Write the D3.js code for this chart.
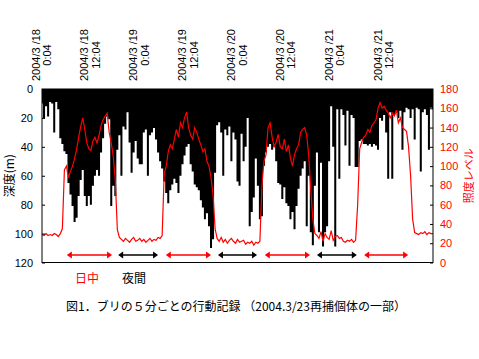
<!DOCTYPE html>
<html><head><meta charset="utf-8">
<script src="https://cdn.jsdelivr.net/npm/d3@7"></script>
<style>
html,body{margin:0;padding:0;background:#fff;}
svg{display:block;}
</style></head>
<body><svg id="c" width="479" height="359"></svg>
<script>
// ---- data (30-minute samples starting 2004/3/18 0:04) ----
const stepHours = 0.5;
const depthValues = [
10,20,12,19,9,10,30,9,14,34,
38,43,45,65,73,81,92,89,74,63,
56,74,81,74,80,67,60,56,60,44,
34,24,19,21,81,67,74,42,32,60,
26,28,16,37,58,44,36,48,52,52,
30,28,60,32,30,27,35,44,50,55,
64,72,79,70,66,62,65,72,60,52,
46,40,38,52,57,66,68,70,77,82,
90,86,95,110,104,58,25,23,30,60,
28,32,26,50,30,35,64,67,31,50,
40,20,95,85,75,48,67,90,88,53,
44,40,38,42,40,50,65,66,76,68,
79,81,90,85,97,81,69,60,55,50,
95,60,99,108,67,44,99,51,109,99,
95,50,12,40,109,14,62,14,18,39,
15,53,18,20,54,54,36,35,38,38,
39,38,40,38,39,42,20,22,18,30,
62,16,62,18,16,20,15,42,16,13,
14,20,14,35,13,14,57,16,14,18,
42,13,14
];
const lightValues = [
29,28,30,28,29,28,30,29,27,30,
35,96,100,88,95,100,108,117,130,141,150,138,124,118,116,126,130,124,132,142,148,152,155,135,124,110,85,34,
26,24,22,25,23,21,24,26,22,23,25,22,24,21,23,25,22,24,23,26,25,
28,
92,100,115,122,118,128,138,130,145,140,150,156,140,132,128,140,135,128,122,115,118,105,100,88,70,35,
25,22,26,21,24,20,23,25,22,20,24,21,22,23,19,21,20,22,18,21,20,22,
80,105,112,140,145,130,120,125,133,120,118,128,115,122,108,100,112,118,122,135,138,140,132,110,75,45,30,
28,25,32,22,30,26,24,33,23,27,28,25,26,22,21,23,22,24,21,23,
60,118,125,130,132,138,135,142,145,148,160,166,160,162,158,155,150,155,152,158,145,150,140,138,136,120,90,45,31,
30,29,31,30,32,29,31,30,30
];
const tickHours = [0,12,24,36,48,60,72,84];
const tickDates = ["2004/3 /18","2004/3 /18","2004/3 /19","2004/3 /19","2004/3 /20","2004/3 /20","2004/3 /21","2004/3 /21"];
const tickTimes = ["0:04","12:04","0:04","12:04","0:04","12:04","0:04","12:04"];
const depthTicks = [0,20,40,60,80,100,120];
const lightTicks = [0,20,40,60,80,100,120,140,160,180];
const periodStart = [6.1,18.7,30.4,43.2,54.7,67.5,79.1];
const periodEnd   = [17.2,28.5,41.5,52.8,65.8,77.3,89.9];
const periodKind  = ["day","night","day","night","day","night","day"];
const legendLabels = ["日中","夜間"];
const caption = "図1．ブリの５分ごとの行動記録 （2004.3/23再捕個体の一部）";
const leftTitle = "深度(m)";
const rightTitle = "照度レベル";

// ---- layout ----
const L = 42, R = 433, T = 89, B = 262.5;
const RED = "#ff0000";
const svg = d3.select("#c");
const x = d3.scaleLinear().domain([0,96]).range([L,R]);
const yD = d3.scaleLinear().domain([0,120]).range([T,B]);
const yL = d3.scaleLinear().domain([0,180]).range([B,T]);
const tf = "'Liberation Sans', Arial, sans-serif";
const jf = "'Noto Sans CJK JP', sans-serif";

svg.append("defs").append("clipPath").attr("id","pc")
  .append("rect").attr("x",L).attr("y",T).attr("width",R-L).attr("height",B-T);

const depthData = depthValues.map((v,i)=>({t:i*stepHours, v}));
const lightData = lightValues.map((v,i)=>({t:i*stepHours, v}));

const g = svg.append("g").attr("clip-path","url(#pc)");
g.append("path").datum(depthData)
  .attr("d", d3.area().curve(d3.curveStep).x(d=>x(d.t)).y0(yD(0)).y1(d=>yD(d.v)))
  .attr("fill","#000");
g.append("path").datum(lightData)
  .attr("d", d3.line().x(d=>x(d.t)).y(d=>yL(d.v)))
  .attr("fill","none").attr("stroke",RED).attr("stroke-width",1.2);

// frame
svg.append("rect").attr("x",L).attr("y",T).attr("width",R-L).attr("height",B-T)
  .attr("fill","none").attr("stroke","#000").attr("stroke-width",1);

// left axis
const ax1 = svg.append("g").attr("transform",`translate(${L},0)`)
  .call(d3.axisLeft(yD).tickValues(depthTicks).tickSizeInner(-3).tickSizeOuter(0).tickPadding(9));
ax1.select(".domain").remove();
ax1.selectAll("text").attr("font-family",tf).attr("font-size",11).attr("fill","#000");
ax1.selectAll("line").attr("stroke","#000");

// right axis
const ax2 = svg.append("g").attr("transform",`translate(${R},0)`)
  .call(d3.axisRight(yL).tickValues(lightTicks).tickSizeInner(-3).tickSizeOuter(0).tickPadding(7));
ax2.select(".domain").remove();
ax2.selectAll("text").attr("font-family",tf).attr("font-size",11).attr("fill",RED);
ax2.selectAll("line").attr("stroke","#000");

// top labels
tickHours.forEach((h,i)=>{
  const t = svg.append("text")
    .attr("transform",`translate(${x(h)},55) rotate(-90)`)
    .attr("text-anchor","middle").attr("font-family",tf).attr("font-size",11).attr("fill","#000");
  t.append("tspan").attr("x",0).attr("y",-2.5).text(tickDates[i]);
  t.append("tspan").attr("x",0).attr("y",9).text(tickTimes[i]);
});

// axis titles
svg.append("text").attr("transform",`translate(14,${(T+B)/2}) rotate(-90)`)
  .attr("text-anchor","middle").attr("font-family",jf).attr("font-size",12).attr("fill","#000").text(leftTitle);
svg.append("text").attr("transform",`translate(473,${(T+B)/2}) rotate(-90)`)
  .attr("text-anchor","middle").attr("font-family",jf).attr("font-size",11).attr("fill",RED).text(rightTitle);

// period arrows
const ay = 255;
periodStart.forEach((s,i)=>{
  const c = periodKind[i]==="day" ? RED : "#000";
  const x1 = x(s), x2 = x(periodEnd[i]);
  svg.append("line").attr("x1",x1+2).attr("x2",x2-2).attr("y1",ay).attr("y2",ay)
    .attr("stroke",c).attr("stroke-width",1.3);
  svg.append("path").attr("d",`M${x1},${ay}L${x1+5},${ay-3.5}L${x1+5},${ay+3.5}Z`).attr("fill",c);
  svg.append("path").attr("d",`M${x2},${ay}L${x2-5},${ay-3.5}L${x2-5},${ay+3.5}Z`).attr("fill",c);
});

// legend
svg.append("text").attr("x",75).attr("y",283).attr("font-family",jf).attr("font-size",12)
  .attr("fill",RED).text(legendLabels[0]);
svg.append("text").attr("x",122).attr("y",283).attr("font-family",jf).attr("font-size",12)
  .attr("fill","#000").text(legendLabels[1]);

// caption
svg.append("text").attr("x",236).attr("y",311).attr("text-anchor","middle")
  .attr("font-family",jf).attr("font-size",12).attr("fill","#000").text(caption);
</script>
</body></html>
